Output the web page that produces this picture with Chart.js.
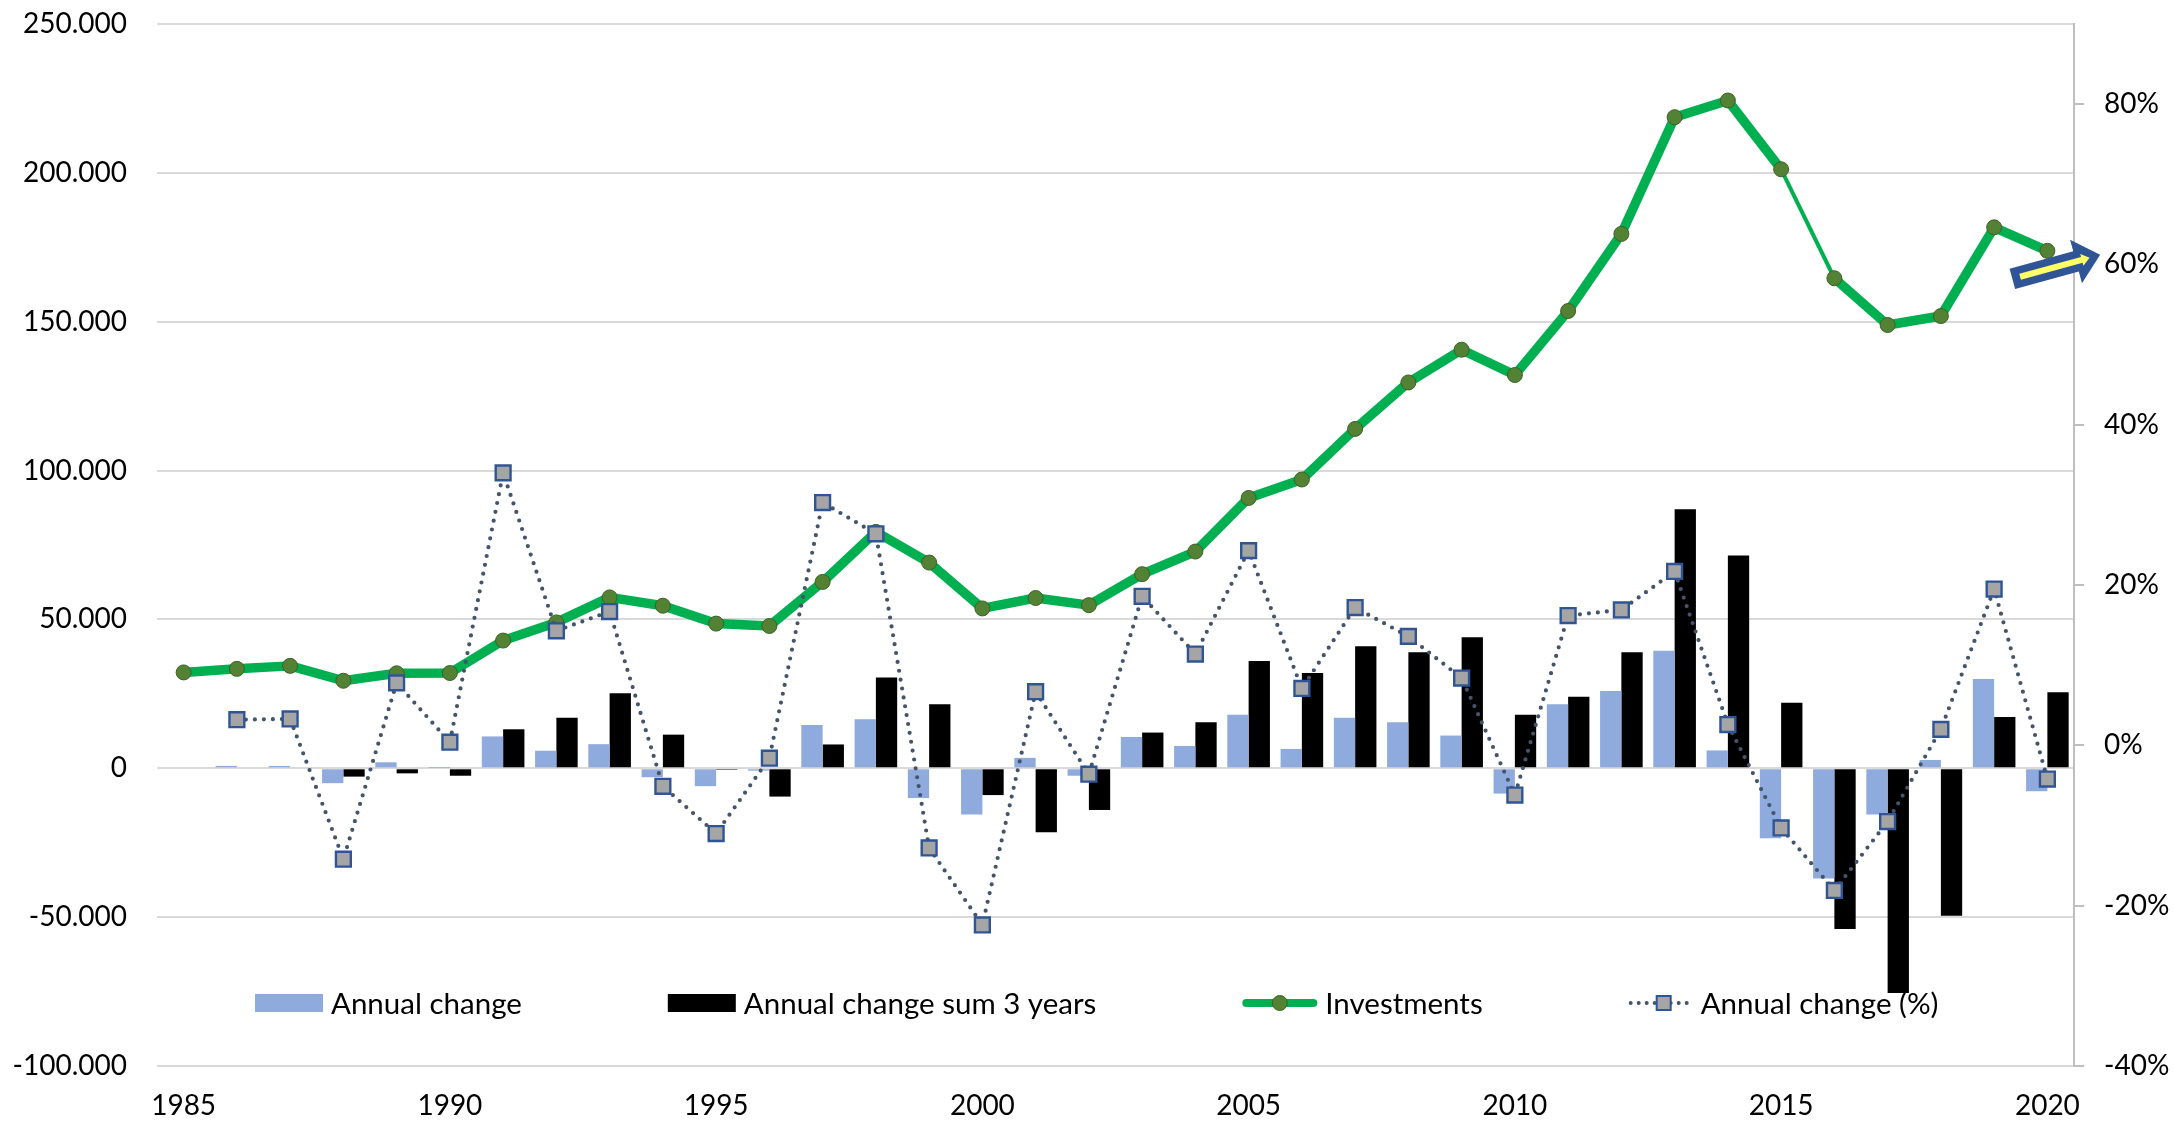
<!DOCTYPE html>
<html>
<head>
<meta charset="utf-8">
<title>Investments</title>
<script src="https://cdn.jsdelivr.net/npm/chart.js@4.4.1/dist/chart.umd.min.js"></script>
<style>
    html, body { margin: 0; padding: 0; background: #fff; }
    #wrap { position: relative; width: 2175px; height: 1122px; }
</style>
</head>
<body>
<div id="wrap"><canvas id="investChart"></canvas></div>
<script>
// data
const years = ["1985", "1986", "1987", "1988", "1989", "1990", "1991", "1992", "1993", "1994",
    "1995", "1996", "1997", "1998", "1999", "2000", "2001", "2002", "2003", "2004",
    "2005", "2006", "2007", "2008", "2009", "2010", "2011", "2012", "2013", "2014",
    "2015", "2016", "2017", "2018", "2019", "2020"];
const yearTicks = ["1985", "1990", "1995", "2000", "2005", "2010", "2015", "2020"];

const investments = [32200, 33400, 34400, 29400, 31900, 32000, 42900, 49000, 57400, 54600,
    48600, 47800, 62600, 79400, 69100, 53700, 57200, 54800, 65200, 72800,
    90800, 97000, 114000, 129600, 140600, 132100, 153600, 179500, 218700, 224300,
    201200, 164600, 148900, 151900, 181700, 173800];

const annualChange = [null, 800, 800, -5000, 2000, 100, 10700, 5900, 8100, -3000,
    -6000, -800, 14500, 16500, -10000, -15500, 3500, -2500, 10500, 7500,
    18000, 6500, 17000, 15500, 11000, -8500, 21500, 26000, 39500, 6000,
    -23500, -37000, -15500, 2800, 30000, -7700];

const changeSum3 = [null, null, null, -2800, -1700, -2500, 13100, 17000, 25200, 11300,
    -500, -9500, 8000, 30500, 21500, -9000, -21500, -14000, 12000, 15500,
    36000, 32000, 41000, 39000, 44000, 18000, 24000, 39000, 87000, 71500,
    22000, -54000, -75500, -49500, 17200, 25500];

const changePct = [null, 0.032, 0.033, -0.142, 0.078, 0.004, 0.340, 0.143, 0.167, -0.051,
    -0.110, -0.016, 0.303, 0.264, -0.128, -0.224, 0.067, -0.036, 0.186, 0.114,
    0.243, 0.071, 0.172, 0.136, 0.084, -0.062, 0.162, 0.169, 0.217, 0.026,
    -0.103, -0.181, -0.095, 0.020, 0.195, -0.042];

const FONT = "Lato";

function fmtThousands(v) {
    if (v === 0) return "0";
    const s = Math.abs(Math.round(v)).toString().replace(/\B(?=(\d{3})+(?!\d))/g, ".");
    return (v < 0 ? "-" : "") + s;
}

// legend drawn inside the plot area, like the excel one
const innerLegend = {
    id: "innerLegend",
    afterDraw(chart) {
        const ctx = chart.ctx;
        const area = chart.chartArea;
        const cy = area.bottom - 63;
        let x = area.left + 98;
        const gap = 146;
        ctx.save();
        ctx.font = "29.5px " + FONT;
        ctx.textBaseline = "middle";
        ctx.fillStyle = "#000";

        const items = [
            { text: "Annual change", kind: "box", color: "#8faadc", w: 68 },
            { text: "Annual change sum 3 years", kind: "box", color: "#000000", w: 68 },
            { text: "Investments", kind: "green", w: 75 },
            { text: "Annual change (%)", kind: "dots", w: 64 }
        ];

        items.forEach(it => {
            if (it.kind === "box") {
                ctx.fillStyle = it.color;
                ctx.fillRect(x, cy - 9, it.w, 18);
            } else if (it.kind === "green") {
                ctx.strokeStyle = "#00b050";
                ctx.lineWidth = 8;
                ctx.lineCap = "round";
                ctx.beginPath();
                ctx.moveTo(x + 4, cy);
                ctx.lineTo(x + it.w - 4, cy);
                ctx.stroke();
                ctx.beginPath();
                ctx.arc(x + it.w / 2, cy, 7.5, 0, Math.PI * 2);
                ctx.fillStyle = "#548235";
                ctx.fill();
                ctx.lineWidth = 1;
                ctx.strokeStyle = "#3d6127";
                ctx.stroke();
            } else {
                ctx.strokeStyle = "#44546a";
                ctx.lineWidth = 4;
                ctx.lineCap = "round";
                ctx.setLineDash([0, 8]);
                ctx.beginPath();
                ctx.moveTo(x + 2, cy);
                ctx.lineTo(x + it.w, cy);
                ctx.stroke();
                ctx.setLineDash([]);
                ctx.fillStyle = "#a5a5a5";
                ctx.fillRect(x + 28, cy - 7, 14, 14);
                ctx.lineWidth = 2;
                ctx.strokeStyle = "#2f5597";
                ctx.strokeRect(x + 28, cy - 7, 14, 14);
            }
            ctx.fillStyle = "#000";
            ctx.fillText(it.text, x + it.w + 8, cy + 1);
            x += it.w + 8 + ctx.measureText(it.text).width + gap;
        });
        ctx.restore();
    }
};

// the blue/yellow arrow next to the last point
const arrowShape = {
    id: "arrowShape",
    afterDraw(chart) {
        const ctx = chart.ctx;
        const last = years.length - 1;
        const px = chart.scales.x.getPixelForValue(last);
        const py = chart.scales.y.getPixelForValue(investments[last]);
        ctx.save();
        ctx.translate(px - 35, py + 28);
        ctx.rotate(-15.3 * Math.PI / 180);
        ctx.beginPath();
        ctx.moveTo(0, -10.5);
        ctx.lineTo(66, -10.5);
        ctx.lineTo(66, -22.5);
        ctx.lineTo(91, 0);
        ctx.lineTo(66, 22.5);
        ctx.lineTo(66, 10.5);
        ctx.lineTo(0, 10.5);
        ctx.closePath();
        ctx.fillStyle = "#2f5597";
        ctx.fill();
        ctx.beginPath();
        ctx.moveTo(8, -3);
        ctx.lineTo(72, -3);
        ctx.lineTo(72, -6);
        ctx.lineTo(80, 0);
        ctx.lineTo(72, 6);
        ctx.lineTo(72, 3);
        ctx.lineTo(8, 3);
        ctx.closePath();
        ctx.fillStyle = "#ffff66";
        ctx.fill();
        ctx.restore();
    }
};

// keep the plot area where the original has it
function pinVertical(width) {
    return s => {
        s.width = width;
        s.paddingTop = 0;
        s.paddingBottom = 0;
    };
}

document.addEventListener("DOMContentLoaded", function () {
    Chart.defaults.font.family = FONT;
    Chart.defaults.font.size = 28;
    Chart.defaults.color = "#000";

    const ctx = document.getElementById("investChart").getContext("2d");
    new Chart(ctx, {
        type: "bar",
        data: {
            labels: years,
            datasets: [
                {
                    type: "line",
                    label: "Annual change (%)",
                    data: changePct,
                    yAxisID: "y1",
                    order: 0,
                    borderColor: "#44546a",
                    borderWidth: 4.2,
                    borderDash: [0, 9],
                    borderCapStyle: "round",
                    fill: false,
                    tension: 0,
                    pointStyle: "rect",
                    pointRadius: 10.5,
                    pointBackgroundColor: "#a5a5a5",
                    pointBorderColor: "#2f5597",
                    pointBorderWidth: 2.4
                },
                {
                    type: "line",
                    label: "Investments",
                    data: investments,
                    yAxisID: "y",
                    order: 1,
                    borderColor: "#00b050",
                    borderWidth: 9.5,
                    borderJoinStyle: "round",
                    fill: false,
                    tension: 0,
                    pointRadius: 7.5,
                    pointBackgroundColor: "#548235",
                    pointBorderColor: "#3d6127",
                    pointBorderWidth: 1,
                    segment: {
                        // 2015-2016 segment is drawn thin in the original
                        borderWidth: c => c.p0DataIndex === 30 ? 4 : 9.5
                    }
                },
                {
                    label: "Annual change",
                    data: annualChange,
                    yAxisID: "y",
                    order: 2,
                    backgroundColor: "#8faadc",
                    categoryPercentage: 0.8,
                    barPercentage: 1.0
                },
                {
                    label: "Annual change sum 3 years",
                    data: changeSum3,
                    yAxisID: "y",
                    order: 3,
                    backgroundColor: "#000000",
                    categoryPercentage: 0.8,
                    barPercentage: 1.0
                }
            ]
        },
        options: {
            responsive: true,
            maintainAspectRatio: false,
            animation: false,
            layout: { padding: { top: 24 } },
            plugins: {
                legend: { display: false },
                tooltip: { enabled: false }
            },
            scales: {
                x: {
                    grid: { display: false, drawTicks: false },
                    border: { display: false },
                    ticks: {
                        autoSkip: false,
                        maxRotation: 0,
                        padding: 23,
                        callback: function (value, index) {
                            const lab = years[index];
                            return yearTicks.includes(lab) ? lab : null;
                        }
                    },
                    afterFit: s => { s.height = 56; }
                },
                y: {
                    position: "left",
                    min: -100000,
                    max: 250000,
                    ticks: {
                        stepSize: 50000,
                        padding: 30,
                        callback: v => fmtThousands(v)
                    },
                    grid: { color: "#d9d9d9", lineWidth: 2, drawTicks: false },
                    border: { display: false },
                    afterFit: pinVertical(157)
                },
                y1: {
                    position: "right",
                    min: -0.4,
                    max: 0.9,
                    ticks: {
                        stepSize: 0.2,
                        padding: 20,
                        callback: v => Math.round(v * 100) + "%"
                    },
                    afterBuildTicks: s => {
                        s.ticks = s.ticks.filter(t => t.value < 0.85);
                    },
                    grid: {
                        drawOnChartArea: false,
                        color: "#bfbfbf",
                        lineWidth: 2,
                        tickLength: 10
                    },
                    border: { display: true, color: "#bfbfbf", width: 2 },
                    afterFit: pinVertical(101)
                }
            }
        },
        plugins: [innerLegend, arrowShape]
    });
});
</script>
</body>
</html>
